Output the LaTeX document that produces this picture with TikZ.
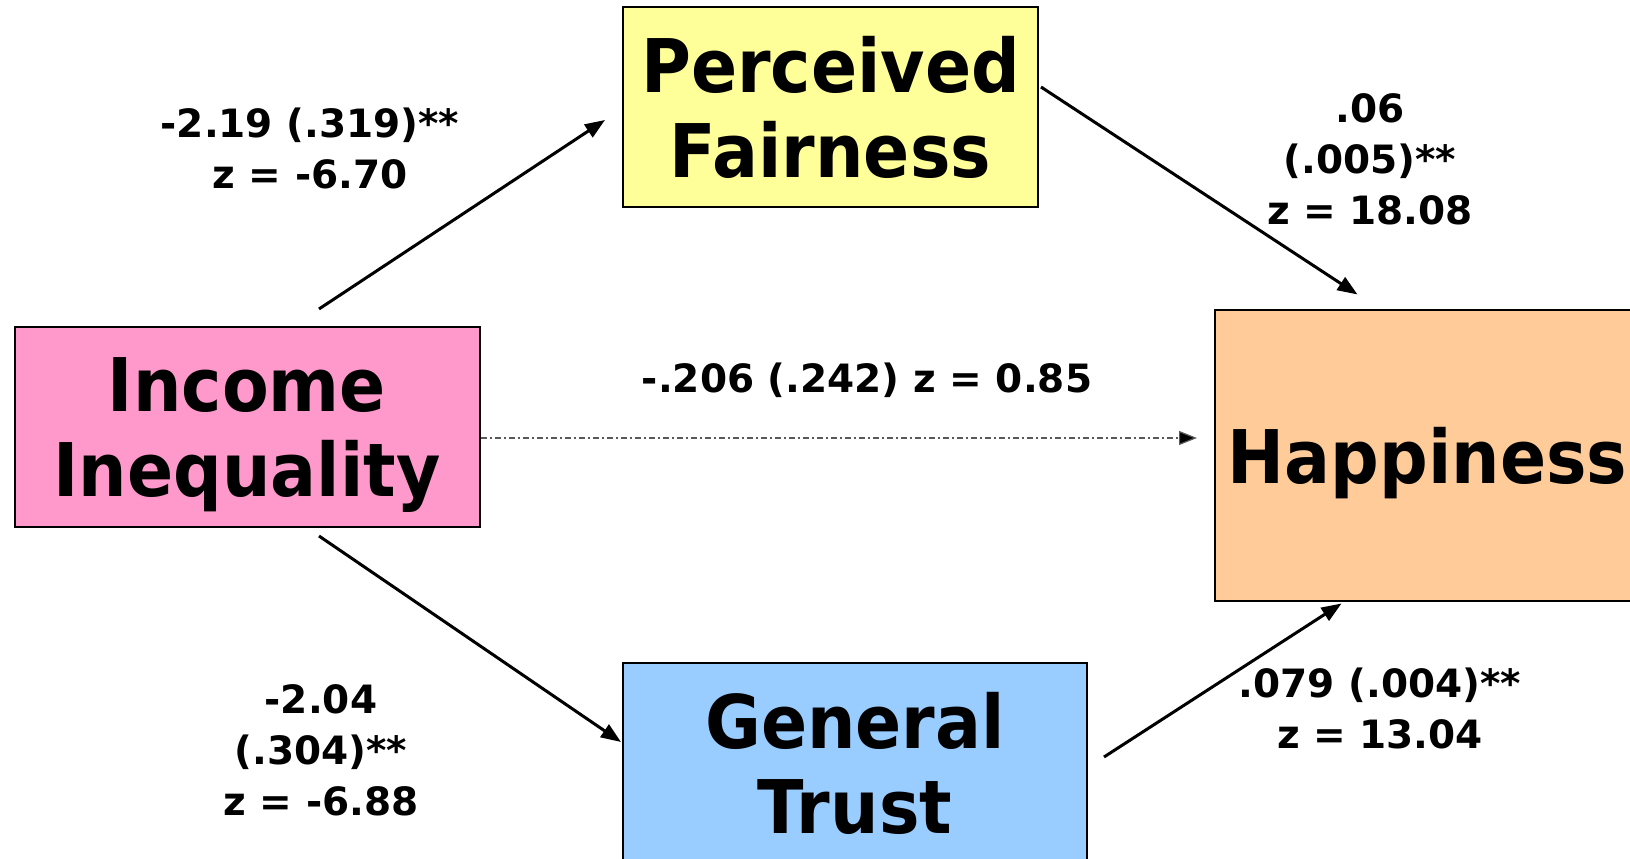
\documentclass[tikz,border=0pt]{standalone}
\usepackage{fontspec}
\setmainfont{DejaVu Sans}
\newfontfamily\boxfont{DejaVu Sans}[FakeStretch=0.92]
\usetikzlibrary{arrows.meta, positioning, calc}
\definecolor{incpink}{HTML}{FF99CC}
\definecolor{fairyellow}{HTML}{FFFF99}
\definecolor{haporange}{HTML}{FFCC99}
\definecolor{trustblue}{HTML}{99CCFF}

\begin{document}
\begin{tikzpicture}[x=1pt, y=1pt, var/.style={draw, line width=2pt, minimum height=200pt, inner sep=0pt, align=center, text depth=0pt, font=\boxfont\fontsize{74}{85}\selectfont\bfseries}, coef/.style={inner sep=0pt, align=center, font=\fontsize{39}{51}\selectfont\bfseries}, link/.style={line width=3pt, -{Triangle[length=20pt, width=15pt]}}, direct/.style={line width=1.2pt, draw=black!65, dash pattern=on 6pt off 3pt on 2pt off 3pt, -{Triangle[length=18pt, width=14pt, fill=black]}}]
\useasboundingbox (0,0) rectangle (1630,859);
\node[var, fill=incpink,    minimum width=465pt]                      (INC)   at (247,432)    {Income\\Inequality};
\node[var, fill=fairyellow, minimum width=415pt]                      (FAIR)  at (830.5,752)  {Perceived\\Fairness};
\node[var, fill=haporange,  minimum width=425pt, minimum height=291pt] (HAP)   at (1427.5,403.5) {Happiness};
\node[var, fill=trustblue,  minimum width=464pt]                      (TRUST) at (855,96)     {General\\Trust};
\coordinate (DIR) at ([yshift=-11pt]INC.east);
\draw[link] ([shift={(72pt,17pt)}]INC.north) -- ([shift={(-17pt,-13pt)}]FAIR.west);
\draw[link] ([shift={(2pt,20pt)}]FAIR.east) -- ([shift={(-70pt,14.5pt)}]HAP.north);
\draw[link] ([shift={(72pt,-8pt)}]INC.south) -- ([shift={(-1pt,21pt)}]TRUST.west);
\draw[link] ([shift={(16pt,6pt)}]TRUST.east) -- ([shift={(-86pt,-1.5pt)}]HAP.south);
\draw[direct, shorten >=17pt] (DIR) -- (DIR -| HAP.west);
\node[coef] (C1) at (310,710.5)  {-2.19 (.319)**\\z = -6.70};
\node[coef] (C2) at (1370,700)   {.06\\(.005)**\\z = 18.08};
\node[coef] (C3) at (867,479)    {-.206 (.242) z = 0.85};
\node[coef] (C4) at (321,108.5)  {-2.04\\(.304)**\\z = -6.88};
\node[coef] (C5) at (1380,150.5) {.079 (.004)**\\z = 13.04};
\end{tikzpicture}
\end{document}
